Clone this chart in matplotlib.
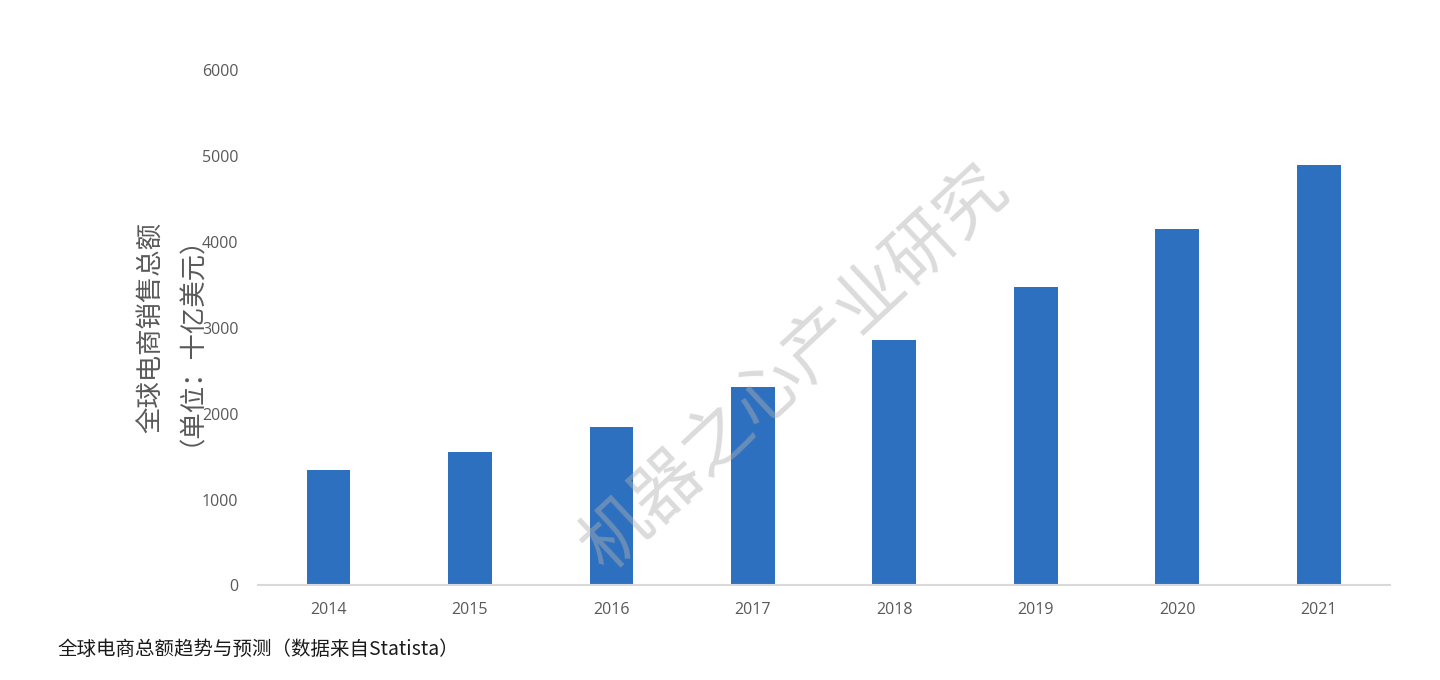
import matplotlib
matplotlib.use("Agg")
import matplotlib.pyplot as plt
import numpy as np

plt.rcParams["font.family"] = ["Noto Sans CJK SC", "DejaVu Sans"]

# Global e-commerce sales, billions of USD
years = ["2014", "2015", "2016", "2017", "2018", "2019", "2020", "2021"]
sales = [1344, 1557, 1848, 2307, 2857, 3471, 4146, 4894]
y_ticks = [0, 1000, 2000, 3000, 4000, 5000, 6000]

BAR_COLOR = "#2e70c0"
GRAY = "#595959"

fig = plt.figure(figsize=(14.4, 6.8), dpi=100)
fig.patch.set_facecolor("white")
ax = fig.add_axes([0.179, 0.139, 0.786, 0.758])

x = np.arange(len(years))
ax.bar(x, sales, width=0.31, color=BAR_COLOR, zorder=2)

ax.set_xlim(-0.5, len(years) - 0.5)
ax.set_ylim(0, 6000)
ax.set_xticks(x)
ax.set_xticklabels(years, fontsize=11.5, color=GRAY, family="Open Sans")
ax.set_yticks(y_ticks)
ax.set_yticklabels([str(v) for v in y_ticks], fontsize=11.5, color=GRAY,
                   family="Open Sans")
ax.tick_params(length=0, pad=14)
ax.tick_params(axis="x", pad=12)

for side in ("top", "right", "left"):
    ax.spines[side].set_visible(False)
ax.spines["bottom"].set_color("#d9d9d9")
ax.spines["bottom"].set_linewidth(1.5)

ax.set_ylabel("全球电商销售总额\n（单位：十亿美元）", fontsize=19,
              color=GRAY, linespacing=0.95, labelpad=8)

# watermark
fig.text(0.552, 0.458, "机器之心产业研究", fontsize=50, color="#b0b0b0",
         alpha=0.45, rotation=43, ha="center", va="center", zorder=5)

fig.text(0.04, 0.045, "全球电商总额趋势与预测（数据来自Statista）",
         fontsize=14, color="#1a1a1a", ha="left", va="center")

fig.savefig("out.png", dpi=100, facecolor="white")
